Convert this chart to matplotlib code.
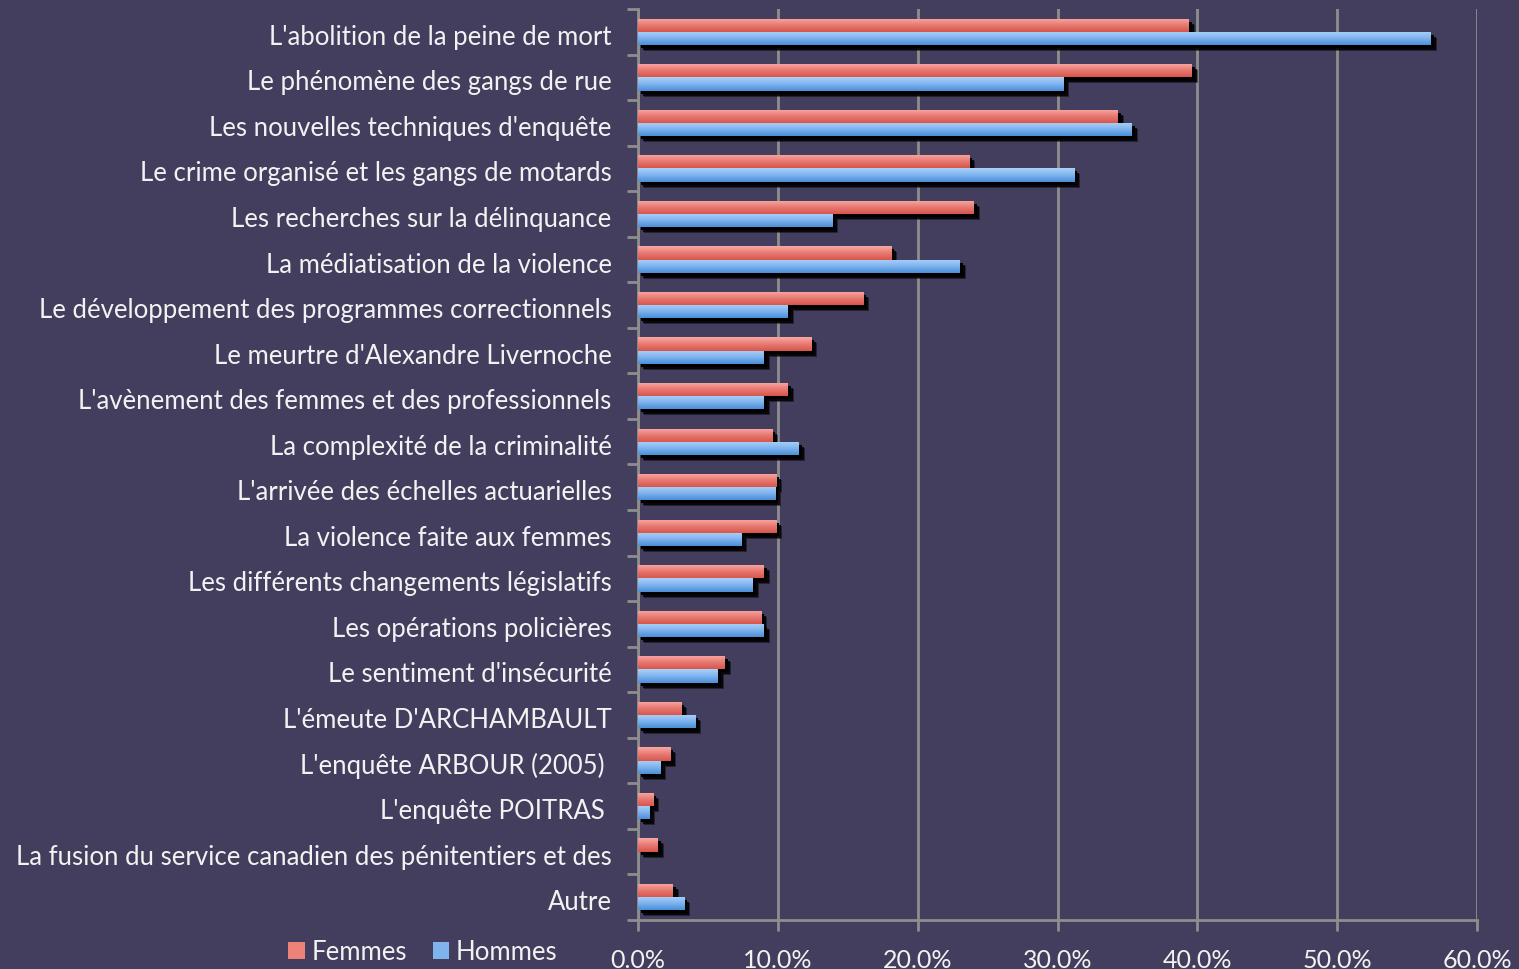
import numpy as np
import matplotlib
matplotlib.use("Agg")
import matplotlib.pyplot as plt
from matplotlib.transforms import ScaledTranslation
from matplotlib.patches import Patch
from matplotlib.colors import LinearSegmentedColormap

categories = [
    "L'abolition de la peine de mort",
    "Le phénomène des gangs de rue",
    "Les nouvelles techniques d'enquête",
    "Le crime organisé et les gangs de motards",
    "Les recherches sur la délinquance",
    "La médiatisation de la violence",
    "Le développement des programmes correctionnels",
    "Le meurtre d'Alexandre Livernoche",
    "L'avènement des femmes et des professionnels",
    "La complexité de la criminalité",
    "L'arrivée des échelles actuarielles",
    "La violence faite aux femmes",
    "Les différents changements législatifs",
    "Les opérations policières",
    "Le sentiment d'insécurité",
    "L'émeute D'ARCHAMBAULT",
    "L'enquête ARBOUR (2005) ",
    "L'enquête POITRAS ",
    "La fusion du service canadien des pénitentiers et des",
    "Autre",
]
femmes = [39.4, 39.6, 34.3, 23.7, 24.0, 18.1, 16.1, 12.4, 10.7, 9.6,
          9.9, 9.9, 9.0, 8.8, 6.2, 3.1, 2.3, 1.1, 1.4, 2.5]
hommes = [56.7, 30.4, 35.3, 31.2, 13.9, 23.0, 10.7, 9.0, 9.0, 11.5,
          9.8, 7.4, 8.2, 9.0, 5.7, 4.1, 1.6, 0.8, 0.0, 3.3]
xticks = [0, 10, 20, 30, 40, 50, 60]
xticklabels = ["0.0%", "10.0%", "20.0%", "30.0%", "40.0%", "50.0%", "60.0%"]

BG = "#433E5E"
GRID = "#8E8E8E"
TXT = "#F2F2F2"
FONT = "Lato"

fig = plt.figure(figsize=(15.19, 9.70), dpi=100, facecolor=BG)
ax = fig.add_axes([638 / 1519, 1 - 921 / 970, (1477 - 638) / 1519, (921 - 10) / 970])
ax.set_facecolor(BG)

n = len(categories)
y = np.arange(n)
h = 0.29

red_cmap = LinearSegmentedColormap.from_list("r", ["#FAA8A3", "#E77A72", "#D8554B"])
blue_cmap = LinearSegmentedColormap.from_list("b", ["#AAD2FA", "#7FB3EE", "#4A8FDA"])

for off, a in ((6, 0.45), (5, 0.8), (3, 1.0)):
    tr = ax.transData + ScaledTranslation(off / 100, -off / 100, fig.dpi_scale_trans)
    for dy, vals in ((-h / 2, femmes), (h / 2, hommes)):
        ax.barh(y + dy, vals, height=h, color="black", transform=tr, zorder=2, alpha=a)

grad = np.linspace(0, 1, 64).reshape(-1, 1)
for dy, vals, cmap in ((-h / 2, femmes, red_cmap), (h / 2, hommes, blue_cmap)):
    bars = ax.barh(y + dy, vals, height=h, color=cmap(0.5), zorder=3)
    for b in bars:
        x0, yb = b.get_x(), b.get_y()
        w, hh = b.get_width(), b.get_height()
        if w <= 0:
            continue
        im = ax.imshow(grad, cmap=cmap, aspect="auto", extent=[x0, x0 + w, yb + hh, yb],
                       origin="upper", zorder=4, interpolation="bilinear")
        im.set_clip_path(b)

ax.set_xlim(0, 60)
ax.set_ylim(n - 0.5, -0.5)
ax.set_xticks(xticks)
ax.set_xticklabels(xticklabels, fontsize=18, color=TXT, family=FONT)
ax.set_yticks(y)
ax.set_yticklabels(categories, fontsize=18.5, color=TXT, family=FONT)
ax.tick_params(axis="y", length=0, pad=19)
ax.set_yticks(np.arange(n + 1) - 0.5, minor=True)
ax.tick_params(axis="y", which="minor", length=8, width=2, color=GRID)
ax.tick_params(axis="x", length=8, width=2, color=GRID, pad=12)
ax.grid(axis="x", color=GRID, linewidth=2, zorder=1)
ax.set_axisbelow(True)
for s in ("top", "right"):
    ax.spines[s].set_visible(False)
for s in ("left", "bottom"):
    ax.spines[s].set_color(GRID)
    ax.spines[s].set_linewidth(2)

shift = ScaledTranslation(0, -2 / 100, fig.dpi_scale_trans)
for lab in ax.get_yticklabels():
    lab.set_transform(lab.get_transform() + shift)

handles = [Patch(facecolor="#EC827A", edgecolor="none", label="Femmes"),
           Patch(facecolor="#7FB3EE", edgecolor="none", label="Hommes")]
leg = fig.legend(handles=handles, loc="center", bbox_to_anchor=(423 / 1519, 1 - 953 / 970),
                 ncol=2, frameon=False, handlelength=0.65, handleheight=0.65,
                 handletextpad=0.25, columnspacing=1.0, borderpad=0,
                 prop={"family": FONT, "size": 18.5})
for t in leg.get_texts():
    t.set_color(TXT)

fig.savefig("out.png", dpi=100, facecolor=BG)
